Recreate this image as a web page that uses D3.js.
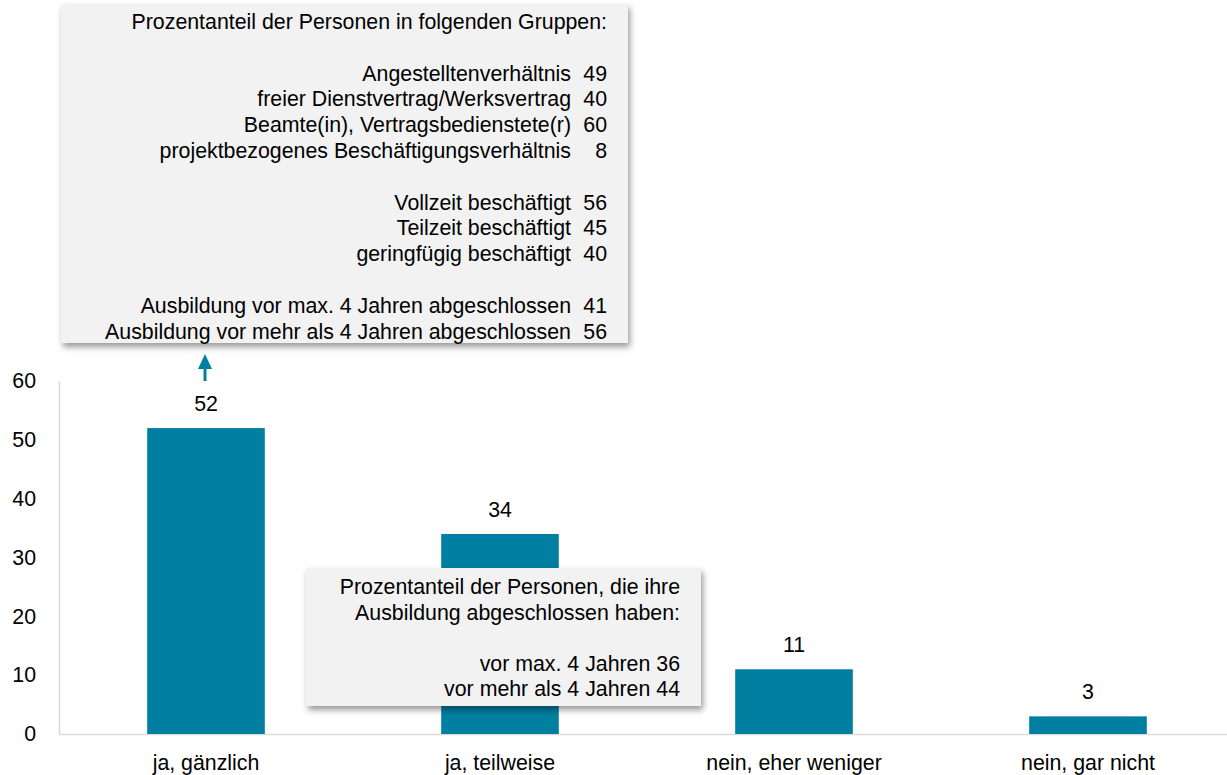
<!DOCTYPE html>
<html>
<head>
<meta charset="utf-8">
<script src="https://cdn.jsdelivr.net/npm/d3@7"></script>
<style>
  body { margin: 0; background: #fff; }
  svg { display: block; font-family: "Liberation Sans", Arial, sans-serif; }
</style>
</head>
<body>
<div id="chart"></div>
<script>
// Data
const categories = ["ja, gänzlich", "ja, teilweise", "nein, eher weniger", "nein, gar nicht"];
const values = [52, 34, 11, 3];
const yTicks = [0, 10, 20, 30, 40, 50, 60];

const groupTitle = "Prozentanteil der Personen in folgenden Gruppen:";
// null = blank line
const groupLabels = [null,
  "Angestelltenverhältnis", "freier Dienstvertrag/Werksvertrag",
  "Beamte(in), Vertragsbedienstete(r)", "projektbezogenes Beschäftigungsverhältnis", null,
  "Vollzeit beschäftigt", "Teilzeit beschäftigt", "geringfügig beschäftigt", null,
  "Ausbildung vor max. 4 Jahren abgeschlossen", "Ausbildung vor mehr als 4 Jahren abgeschlossen"];
const groupValues = [null, 49, 40, 60, 8, null, 56, 45, 40, null, 41, 56];

const noteLines = ["Prozentanteil der Personen, die ihre", "Ausbildung abgeschlossen haben:", "",
  "vor max. 4 Jahren 36", "vor mehr als 4 Jahren 44"];

// Dimensions
const width = 1227;
const height = 775;
const barColor = "#007fa0";
const fontSize = "21.33px";

const svg = d3.select("#chart")
  .append("svg")
  .attr("width", width)
  .attr("height", height);

const defs = svg.append("defs");
const shadow = defs.append("filter")
  .attr("id", "shadow")
  .attr("x", "-10%").attr("y", "-10%")
  .attr("width", "120%").attr("height", "130%");
shadow.append("feDropShadow")
  .attr("dx", 2).attr("dy", 4)
  .attr("stdDeviation", 3)
  .attr("flood-color", "#000")
  .attr("flood-opacity", 0.4);

const x = d3.scaleBand()
  .domain(categories)
  .range([59, 1235])
  .paddingInner(0.6)
  .paddingOuter(0.3);

const y = d3.scaleLinear()
  .domain([0, 60])
  .range([734, 381]);

// y axis
const yAxis = svg.append("g")
  .attr("transform", "translate(59,0)")
  .call(d3.axisLeft(y).tickValues(yTicks).tickSize(0).tickPadding(23));
yAxis.select(".domain").attr("stroke", "#d9d9d9").attr("stroke-width", 1.5);
yAxis.selectAll("text")
  .attr("font-size", fontSize)
  .attr("font-family", "Liberation Sans, Arial, sans-serif")
  .attr("fill", "#000");

// x axis
const xAxis = svg.append("g")
  .attr("transform", `translate(0,${y(0)})`)
  .call(d3.axisBottom(x).tickSize(0).tickPadding(20));
xAxis.select(".domain").attr("stroke", "#d9d9d9").attr("stroke-width", 1.5);
xAxis.selectAll("text")
  .attr("font-size", fontSize)
  .attr("font-family", "Liberation Sans, Arial, sans-serif")
  .attr("fill", "#000")
  .attr("dy", "0.75em");

// bars
svg.selectAll(".bar")
  .data(values)
  .enter()
  .append("rect")
  .attr("class", "bar")
  .attr("x", (d, i) => x(categories[i]))
  .attr("y", d => y(d))
  .attr("width", x.bandwidth())
  .attr("height", d => y(0) - y(d))
  .attr("fill", barColor);

svg.selectAll(".val")
  .data(values)
  .enter()
  .append("text")
  .attr("class", "val")
  .attr("x", (d, i) => x(categories[i]) + x.bandwidth() / 2)
  .attr("y", d => y(d) - 17)
  .attr("text-anchor", "middle")
  .attr("font-size", fontSize)
  .text(d => d);

// top callout box
const topBox = svg.append("g");
topBox.append("rect")
  .attr("x", 61).attr("y", 4)
  .attr("width", 567).attr("height", 339)
  .attr("fill", "#f2f2f2")
  .attr("filter", "url(#shadow)");

const lineH = 25.8;
topBox.append("text")
  .attr("x", 607).attr("y", 29)
  .attr("text-anchor", "end")
  .attr("font-size", fontSize)
  .text(groupTitle);

groupLabels.forEach((label, i) => {
  if (label === null) return;
  const by = 29 + (i + 1) * lineH;
  topBox.append("text")
    .attr("x", 571).attr("y", by)
    .attr("text-anchor", "end")
    .attr("font-size", fontSize)
    .text(label);
  topBox.append("text")
    .attr("x", 607).attr("y", by)
    .attr("text-anchor", "end")
    .attr("font-size", fontSize)
    .text(groupValues[i]);
});

// arrow pointing from first bar to the box
const ax = x(categories[0]) + x.bandwidth() / 2 - 1;
svg.append("line")
  .attr("x1", ax).attr("x2", ax)
  .attr("y1", 381).attr("y2", 365)
  .attr("stroke", barColor)
  .attr("stroke-width", 3);
svg.append("path")
  .attr("d", `M${ax - 7},369 L${ax},354 L${ax + 7},369 Z`)
  .attr("fill", barColor);

// lower callout box
const noteBox = svg.append("g");
noteBox.append("rect")
  .attr("x", 306).attr("y", 568)
  .attr("width", 395).attr("height", 138)
  .attr("fill", "#f2f2f2")
  .attr("filter", "url(#shadow)");

noteBox.selectAll("text")
  .data(noteLines)
  .enter()
  .append("text")
  .attr("x", 680)
  .attr("y", (d, i) => 594 + i * 25.5)
  .attr("text-anchor", "end")
  .attr("font-size", fontSize)
  .text(d => d);
</script>
</body>
</html>
